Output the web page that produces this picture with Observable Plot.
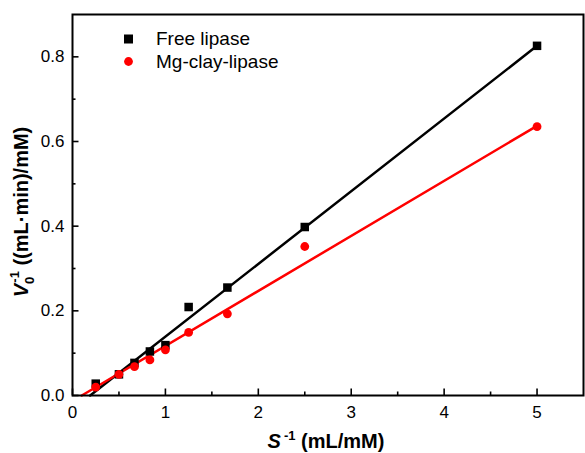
<!DOCTYPE html>
<html>
<head>
<meta charset="utf-8">
<script src="https://cdn.jsdelivr.net/npm/d3@7"></script>
<script src="https://cdn.jsdelivr.net/npm/@observablehq/plot@0.6"></script>
<style>
  html, body { margin: 0; padding: 0; background: #fff; }
  #chart { width: 585px; height: 453px; font-family: "Liberation Sans", Arial, sans-serif; }
</style>
</head>
<body>
<div id="chart"></div>
<script>
// ---- data ----
const sInv = [0.25, 0.5, 0.667, 0.833, 1.0, 1.25, 1.667, 2.5, 5.0];
const freeLipase = [0.028, 0.05, 0.077, 0.104, 0.119, 0.209, 0.255, 0.398, 0.826];
const clayLipase = [0.020, 0.05, 0.068, 0.084, 0.108, 0.149, 0.193, 0.352, 0.635];
// fitted straight lines (endpoints)
const fitFreeX = [0.19, 5.0];
const fitFreeY = [0.0, 0.826];
const fitClayX = [0.10, 5.0];
const fitClayY = [0.0, 0.637];
// ticks
const xTicks = [0, 1, 2, 3, 4, 5];
const xMinor = [0.5, 1.5, 2.5, 3.5, 4.5];
const yTicks = [0, 0.2, 0.4, 0.6, 0.8];
const yMinor = [0.1, 0.3, 0.5, 0.7];
const seriesNames = ["Free lipase", "Mg-clay-lipase"];
const seriesColors = ["#000000", "#ff0000"];

const freeData = sInv.map((x, i) => ({x, y: freeLipase[i]}));
const clayData = sInv.map((x, i) => ({x, y: clayLipase[i]}));
const freeFit = fitFreeX.map((x, i) => ({x, y: fitFreeY[i]}));
const clayFit = fitClayX.map((x, i) => ({x, y: fitClayY[i]}));

const W = 585, H = 453;
const ML = 72, MR = 2, MT = 14, MB = 58;
const PW = W - ML - MR, PH = H - MT - MB;
const FONT = "Liberation Sans, Arial, sans-serif";

const plot = Plot.plot({
  width: W,
  height: H,
  marginLeft: ML,
  marginRight: MR,
  marginTop: MT,
  marginBottom: MB,
  style: {fontFamily: FONT, background: "#fff", color: "#000"},
  x: {domain: [0, 5.5]},
  y: {domain: [0, 0.9]},
  marks: [
    Plot.line(freeFit, {x: "x", y: "y", stroke: seriesColors[0], strokeWidth: 2.5}),
    Plot.line(clayFit, {x: "x", y: "y", stroke: seriesColors[1], strokeWidth: 2.5}),
    Plot.dot(freeData, {x: "x", y: "y", symbol: "square", fill: seriesColors[0], r: 4.8}),
    Plot.dot(clayData, {x: "x", y: "y", symbol: "circle", fill: seriesColors[1], r: 4.4}),
    // axes: labels
    Plot.axisX({ticks: xTicks, tickSize: 0, tickPadding: 10, fontSize: 17, label: null, tickFormat: d => String(d)}),
    Plot.axisY({ticks: yTicks, tickSize: 0, tickPadding: 8, fontSize: 17, label: null, tickFormat: d => d.toFixed(1)}),
    // inward ticks
    Plot.tickX(xTicks, {x: d => d, insetTop: PH - 6.5, stroke: "#000", strokeWidth: 1.6}),
    Plot.tickX(xMinor, {x: d => d, insetTop: PH - 3.5, stroke: "#000", strokeWidth: 1.6}),
    Plot.tickY(yTicks, {y: d => d, insetRight: PW - 6.5, stroke: "#000", strokeWidth: 1.6}),
    Plot.tickY(yMinor, {y: d => d, insetRight: PW - 3.5, stroke: "#000", strokeWidth: 1.6}),
    Plot.frame({stroke: "#000", strokeWidth: 2})
  ]
});

document.getElementById("chart").appendChild(plot);

// legend + axis titles as real SVG text
const svg = d3.select(plot);
const leg = svg.append("g").attr("font-family", FONT).attr("font-size", 19).attr("text-anchor", "start");
leg.append("rect").attr("x", 124).attr("y", 34.5).attr("width", 9).attr("height", 9).attr("fill", seriesColors[0]);
leg.append("text").attr("x", 156).attr("y", 45).text(seriesNames[0]);
leg.append("circle").attr("cx", 128.5).attr("cy", 61.5).attr("r", 4.4).attr("fill", seriesColors[1]);
leg.append("text").attr("x", 156).attr("y", 68).text(seriesNames[1]);

// x title
const xt = svg.append("text")
  .attr("x", 326).attr("y", 448)
  .attr("text-anchor", "middle")
  .attr("font-family", FONT).attr("font-size", 20).attr("font-weight", "bold");
xt.append("tspan").attr("font-style", "italic").text("S");
xt.append("tspan").attr("font-size", 13).attr("dy", -8).attr("dx", 3).text("-1");
xt.append("tspan").attr("dy", 8).text(" (mL/mM)");

// y title
const yt = svg.append("text")
  .attr("transform", "translate(28,212) rotate(-90)")
  .attr("text-anchor", "middle")
  .attr("font-family", FONT).attr("font-size", 20).attr("font-weight", "bold");
yt.append("tspan").attr("font-style", "italic").text("V");
yt.append("tspan").attr("font-size", 13).attr("dy", 6).text("0");
yt.append("tspan").attr("font-size", 13).attr("dy", -15).attr("dx", -6).text("-1");
yt.append("tspan").attr("dy", 9).text(" ((mL·min)/mM)");
</script>
</body>
</html>
